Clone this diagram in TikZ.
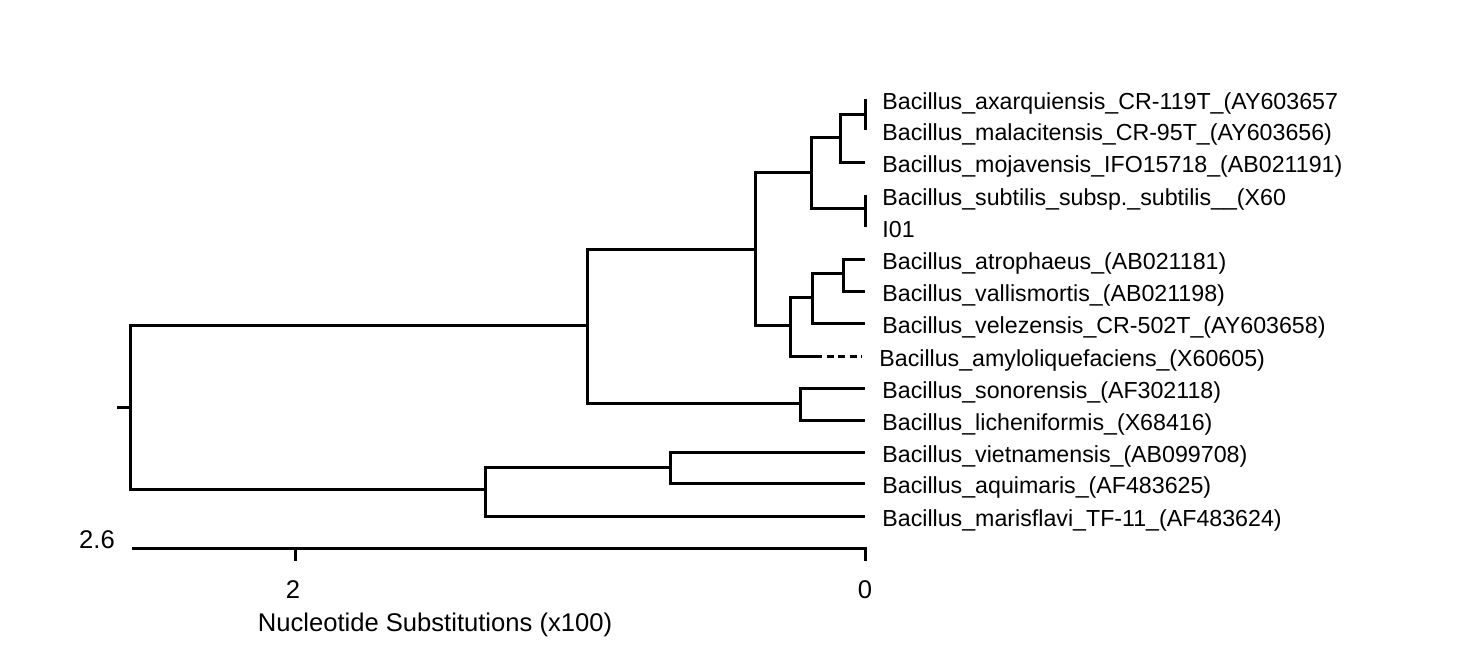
\documentclass[tikz,border=0pt]{standalone}
\usepackage{fontspec}
\setmainfont{Liberation Sans}
\usepackage{xcolor}
\usepackage{tikz}
\usetikzlibrary{positioning}
\definecolor{inkT}{HTML}{000000}

\tikzset{
  branch/.style={draw=inkT, line width=1.5pt},
  leaf/.style={anchor=west, inner xsep=8.5pt, inner ysep=0pt,
               text height=1.08em, text depth=0pt,
               font=\fontsize{11.6}{13}\selectfont, text=inkT},
  scaletxt/.style={inner sep=0pt, font=\fontsize{12.8}{14}\selectfont, text=inkT}
}

\begin{document}
\begin{tikzpicture}[x=0.5pt, y=-0.5pt]
  \useasboundingbox (0,0) rectangle (1474,650);

  % leaves
  \node[leaf] (axa)  at (865,99)  {Bacillus\_axarquiensis\_CR-119T\_(AY603657};
  \node[leaf] (mal)  at (865,130) {Bacillus\_malacitensis\_CR-95T\_(AY603656)};
  \node[leaf] (moj)  at (865,162) {Bacillus\_mojavensis\_IFO15718\_(AB021191)};
  \node[leaf] (sub)  at (865,195) {Bacillus\_subtilis\_subsp.\_subtilis\_\_(X60};
  \node[leaf] (iol)  at (865,227) {I01};
  \node[leaf] (atro) at (865,259) {Bacillus\_atrophaeus\_(AB021181)};
  \node[leaf] (vall) at (865,291) {Bacillus\_vallismortis\_(AB021198)};
  \node[leaf] (vele) at (865,323) {Bacillus\_velezensis\_CR-502T\_(AY603658)};
  \node[leaf] (amy)  at (862,356) {Bacillus\_amyloliquefaciens\_(X60605)};
  \node[leaf] (sono) at (865,388) {Bacillus\_sonorensis\_(AF302118)};
  \node[leaf] (lich) at (865,420) {Bacillus\_licheniformis\_(X68416)};
  \node[leaf] (viet) at (865,452) {Bacillus\_vietnamensis\_(AB099708)};
  \node[leaf] (aqui) at (865,483) {Bacillus\_aquimaris\_(AF483625)};
  \node[leaf] (mari) at (865,516) {Bacillus\_marisflavi\_TF-11\_(AF483624)};

  % inner nodes
  \coordinate (r0)   at (117,407);
  \coordinate (root) at (130,407);
  \coordinate (nA)   at (587,325);
  \coordinate (nB)   at (755,249);
  \coordinate (nC)   at (811,172);
  \coordinate (nD)   at (840,137);
  \coordinate (pAM)  at (865,114);
  \coordinate (pSI)  at (865,208);
  \coordinate (nE)   at (790,325);
  \coordinate (nF)   at (812,297);
  \coordinate (nG)   at (843,273);
  \coordinate (amyS) at (815,356);
  \coordinate (nH)   at (800,403);
  \coordinate (nI)   at (485,489);
  \coordinate (nJ)   at (670,467);

  % tree
  \draw[branch] (r0) -- (root);
  \draw[branch] (root) |- (nA) (root) |- (nI);
  \draw[branch] (nA) |- (nB) (nA) |- (nH);
  \draw[branch] (nB) |- (nC) (nB) |- (nE);
  \draw[branch] (nC) |- (nD) (nC) |- (pSI);
  \draw[branch] (nD) |- (pAM) (nD) |- (moj);
  \draw[branch] (axa.west) -- (mal.west);
  \draw[branch] (sub.west) -- (iol.west);
  \draw[branch] (nE) |- (nF) (nE) |- (amyS);
  \draw[branch, dash pattern=on 3.5pt off 2.3pt] (amyS) -- (amy.west);
  \draw[branch] (nF) |- (nG) (nF) |- (vele);
  \draw[branch] (nG) |- (atro) (nG) |- (vall);
  \draw[branch] (nH) |- (sono) (nH) |- (lich);
  \draw[branch] (nI) |- (nJ) (nI) |- (mari);
  \draw[branch] (nJ) |- (viet) (nJ) |- (aqui);

  % scale bar
  \coordinate (sbL) at (132,548);
  \coordinate (sbM) at (295,548);
  \coordinate (sbR) at (865,548);
  \draw[branch] (sbL) -- (sbR) -- ++(0,13);
  \draw[branch] (sbM) -- ++(0,13);
  \node[scaletxt] (s26)   at (97,540)  {2.6};
  \node[scaletxt] (s2)    at (293,590) {2};
  \node[scaletxt] (s0)    at (865,590) {0};
  \node[scaletxt] (sname) at (435,625) {Nucleotide Substitutions (x100)};
\end{tikzpicture}
\end{document}
